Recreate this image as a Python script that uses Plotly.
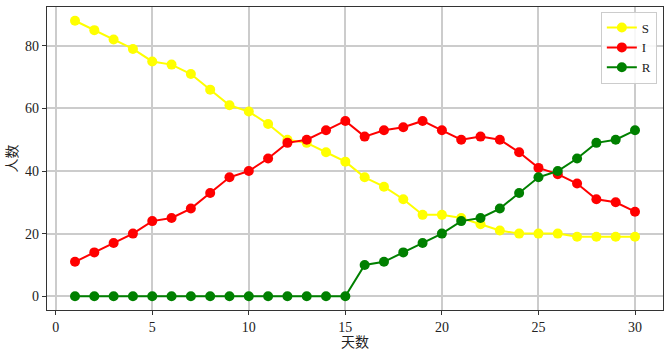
import plotly.graph_objects as go

days = list(range(1, 31))
S = [88, 85, 82, 79, 75, 74, 71, 66, 61, 59, 55, 50, 49, 46, 43,
     38, 35, 31, 26, 26, 25, 23, 21, 20, 20, 20, 19, 19, 19, 19]
I = [11, 14, 17, 20, 24, 25, 28, 33, 38, 40, 44, 49, 50, 53, 56,
     51, 53, 54, 56, 53, 50, 51, 50, 46, 41, 39, 36, 31, 30, 27]
R = [0, 0, 0, 0, 0, 0, 0, 0, 0, 0, 0, 0, 0, 0, 0,
     10, 11, 14, 17, 20, 24, 25, 28, 33, 38, 40, 44, 49, 50, 53]
names = ["S", "I", "R"]
colors = ["#ffff00", "#ff0000", "#008000"]
xticks = [0, 5, 10, 15, 20, 25, 30]
yticks = [0, 20, 40, 60, 80]

font = "Liberation Serif, Times New Roman, Noto Sans CJK SC, serif"

fig = go.Figure()
for name, ys, c in zip(names, [S, I, R], colors):
    fig.add_trace(go.Scatter(x=days, y=ys, name=name, mode="lines+markers",
                             line=dict(color=c, width=2),
                             marker=dict(color=c, size=10)))

axis_common = dict(showline=True, linecolor="#333333", linewidth=1.2, mirror=True,
                   ticks="outside", ticklen=4, tickcolor="#333333",
                   showgrid=True, gridcolor="#cccccc", gridwidth=1.5,
                   zeroline=False, automargin=False,
                   tickfont=dict(family=font, size=14, color="#222222"))

fig.update_xaxes(range=[-0.45, 31.45], tickvals=xticks,
                 title=dict(text="天数", font=dict(family=font, size=14, color="#222222"), standoff=0),
                 **axis_common)
fig.update_yaxes(range=[-4.4, 92.4], tickvals=yticks,
                 title=dict(text="人数", font=dict(family=font, size=14, color="#222222"), standoff=4),
                 **axis_common)

fig.update_layout(width=670, height=353, margin=dict(l=47, r=7, t=7, b=43),
                  plot_bgcolor="white", paper_bgcolor="white",
                  font=dict(family=font, size=14),
                  legend=dict(x=0.99, y=0.985, xanchor="right", yanchor="top",
                              bgcolor="rgba(255,255,255,0.85)", bordercolor="#cccccc",
                              borderwidth=1, font=dict(family=font, size=13, color="#222222"),
                              itemwidth=30, tracegroupgap=0))

fig.write_html("out.html", config={"displayModeBar": False},
               post_script="document.body.style.margin='0px';document.body.style.overflow='hidden';")
